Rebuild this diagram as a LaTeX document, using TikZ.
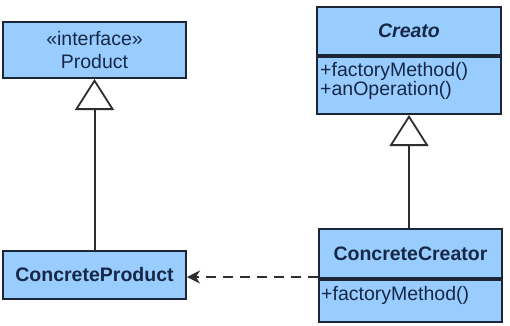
\documentclass[tikz,border=0pt]{standalone}
\usepackage{fontspec}
\setmainfont{Liberation Sans}
\usetikzlibrary{arrows.meta}
\definecolor{boxfill}{RGB}{153,204,255}
\definecolor{boxline}{RGB}{28,38,52}
\definecolor{txt}{RGB}{22,40,70}
\definecolor{conn}{RGB}{45,45,50}
\begin{document}
\begin{tikzpicture}[x=1pt,y=-1pt,
  cls/.style={draw=boxline,fill=boxfill,line width=2pt,rectangle,inner sep=0pt},
  lbl/.style={text=txt,font=\fontsize{19.5}{23}\selectfont,inner sep=0pt,align=center},
  mth/.style={text=txt,font=\fontsize{19.5}{18}\selectfont,inner sep=0pt,anchor=base west},
  inherit/.style={draw=conn,line width=2pt,-{Triangle[open,length=31pt,width=39pt,fill=white,line width=1.8pt]}},
  depend/.style={draw=conn,line width=2pt,dash pattern=on 10pt off 7pt,-{Stealth[length=13pt,width=13pt]}}]
\useasboundingbox (0,0) rectangle (510,325);
\fill[white] (0,0) rectangle (510,325);
% Product
\node[cls,minimum width=183pt,minimum height=56pt] (p) at (94.5,50) {};
\node[lbl] (pt) at (p.center) {«interface»\\Product};
% Creato
\node[cls,minimum width=184pt,minimum height=48pt] (ct1) at (409,31) {};
\node[cls,minimum width=184pt,minimum height=57pt,anchor=north] (ct2) at (ct1.south) {};
\node[lbl,font=\fontsize{19.5}{23}\selectfont\bfseries\itshape] (ctt) at (ct1.center) {Creato};
\node[mth] (ctm1) at (320,76.5) {+factoryMethod()};
\node[mth] (ctm2) at (320,95.5) {+anOperation()};
% ConcreteProduct
\node[cls,minimum width=183pt,minimum height=48pt] (cp) at (94.5,275) {};
\node[lbl,font=\fontsize{19.5}{23}\selectfont\bfseries] (cpt) at (cp.center) {ConcreteProduct};
% ConcreteCreator
\node[cls,minimum width=183pt,minimum height=49pt] (cc1) at (410.5,253.5) {};
\node[cls,minimum width=183pt,minimum height=42pt,anchor=north] (cc2) at (cc1.south) {};
\node[lbl,font=\fontsize{19.5}{23}\selectfont\bfseries] (cct) at (cc1.center) {ConcreteCreator};
\node[mth] (ccm) at (321,300) {+factoryMethod()};
% connectors
\draw[inherit] (cp.north) -- (p.south);
\draw[inherit] ([xshift=-1.5pt]cc1.north) -- ([xshift=-1.5pt]cc1.north |- ct2.south);
\draw[depend] ([yshift=-2pt]cc1.west |- cp.east) -- ([yshift=-2pt]cp.east);
\end{tikzpicture}
\end{document}
